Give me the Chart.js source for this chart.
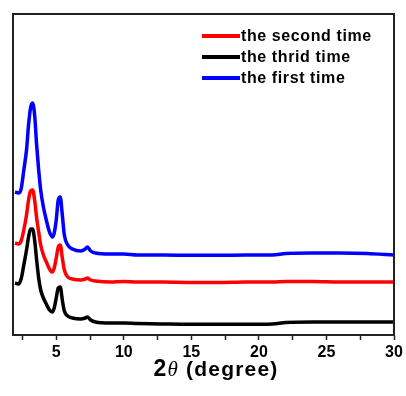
<!DOCTYPE html>
<html>
<head>
<meta charset="utf-8">
<script src="https://cdn.jsdelivr.net/npm/chart.js@4"></script>
<style>
  html, body { margin: 0; padding: 0; background: #fff; }
  #wrap { width: 406px; height: 396px; }
</style>
</head>
<body>
<div id="wrap"><canvas id="xrdChart" width="406" height="396"></canvas></div>
<script>
// 2theta positions shared by all three scans
const twoTheta = [1.95, 2.2, 2.4, 2.6, 2.8, 2.95, 3.1, 3.25, 3.4, 3.55, 3.7, 3.85, 4.05, 4.3, 4.5, 4.7, 4.85, 5.0, 5.15, 5.3,
    5.45, 5.6, 5.85, 6.2, 6.8, 7.15, 7.3, 7.55, 7.9, 9, 10, 11, 13, 15, 17, 19, 21, 22, 24, 26, 28, 30]

// intensities (arbitrary units, already stacked with offsets as in the figure)
const secondTime = [92, 91, 94, 105, 120, 135, 144, 145, 135, 117, 103, 90, 80, 72, 66, 63, 67, 77, 88, 90,
    77, 65, 58, 56, 55, 56, 57, 55, 54, 53, 53.5, 53, 53, 52.5, 52.5, 53, 53, 53.5, 53.5, 53, 53, 53]
const thirdTime = [52, 51, 56, 70, 85, 98, 106, 106, 95, 75, 57, 45, 37, 30, 25, 23, 27, 37, 47, 48,
    35, 24, 19, 17, 16, 17, 18, 15, 13, 12, 12, 11.5, 11, 10.7, 10.7, 10.7, 11, 12.5, 13, 13, 13, 13]
const firstTime = [143, 142, 146, 165, 185, 210, 227, 232, 220, 190, 165, 145, 128, 113, 103, 98, 102, 115, 135, 138,
    120, 100, 90, 86, 84, 86, 88, 84, 82, 81, 81, 80, 80, 79.7, 79.7, 80, 80, 81.5, 82, 82, 81.5, 80]

const seriesLabels = ['the second time', 'the thrid time', 'the first time']
const seriesColors = ['#ff0000', '#000000', '#0000ff']
const xTickValues = [2.5, 5, 7.5, 10, 12.5, 15, 17.5, 20, 22.5, 25, 27.5, 30]
const xTitle = ['2', 'θ', ' (degree)']

const seriesData = [secondTime, thirdTime, firstTime]
const datasets = seriesData.map((vals, i) => ({
    label: seriesLabels[i],
    data: twoTheta.map((t, j) => ({x: t, y: vals[j]})),
    borderColor: seriesColors[i],
    borderWidth: 3.5,
    pointRadius: 0,
    fill: false,
    cubicInterpolationMode: 'monotone'
}))

// frame box, custom legend and the axis title with italic theta
const decorations = {
    id: 'decorations',
    afterDraw(chart) {
        const ctx = chart.ctx
        const a = chart.chartArea
        ctx.save()
        ctx.strokeStyle = '#222'
        ctx.lineWidth = 2
        ctx.strokeRect(a.left, a.top, a.right - a.left, a.bottom - a.top)

        // legend
        ctx.font = 'bold 16px "Liberation Sans", Arial, sans-serif'
        ctx.letterSpacing = '0.6px'
        ctx.textBaseline = 'middle'
        chart.data.datasets.forEach((ds, i) => {
            const y = 36 + i * 21
            ctx.strokeStyle = ds.borderColor
            ctx.lineWidth = 4
            ctx.beginPath()
            ctx.moveTo(202, y)
            ctx.lineTo(240, y)
            ctx.stroke()
            ctx.fillStyle = '#000'
            ctx.fillText(ds.label, 241, y + 1)
        })

        // x title
        ctx.letterSpacing = '1.2px'
        const fonts = ['bold 23px "Liberation Sans", Arial, sans-serif',
                       'italic 21px "Liberation Serif", "Times New Roman", serif',
                       'bold 21px "Liberation Sans", Arial, sans-serif']
        let widths = xTitle.map((t, i) => { ctx.font = fonts[i]; return ctx.measureText(t).width })
        let total = widths.reduce((s, w) => s + w, 0)
        let x = 216 - total / 2
        ctx.textBaseline = 'alphabetic'
        ctx.fillStyle = '#000'
        xTitle.forEach((t, i) => {
            ctx.font = fonts[i]
            ctx.fillText(t, x, 376)
            x += widths[i]
        })
        ctx.restore()
    }
}

const xrdChart = new Chart(document.getElementById('xrdChart'), {
    type: 'line',
    data: { datasets: datasets },
    options: {
        responsive: false,
        animation: false,
        layout: { padding: { left: 13, top: 14, right: 12, bottom: 0 } },
        plugins: {
            legend: { display: false },
            tooltip: { enabled: false }
        },
        scales: {
            x: {
                type: 'linear',
                min: 1.8,
                max: 30,
                afterBuildTicks: scale => { scale.ticks = xTickValues.map(v => ({value: v})) },
                afterFit: scale => { scale.height = 61 },
                grid: { drawOnChartArea: false, drawTicks: true, tickLength: 5, tickWidth: 1.5, color: '#222' },
                border: { display: true, color: '#222', width: 2 },
                ticks: {
                    autoSkip: false,
                    maxRotation: 0,
                    padding: 3,
                    color: '#000',
                    font: { family: '"Liberation Sans", Arial, sans-serif', size: 16, weight: 'bold' },
                    callback: v => (v % 5 === 0 ? String(v) : '')
                }
            },
            y: {
                display: false,
                min: 0,
                max: 321
            }
        }
    },
    plugins: [decorations]
})
</script>
</body>
</html>
